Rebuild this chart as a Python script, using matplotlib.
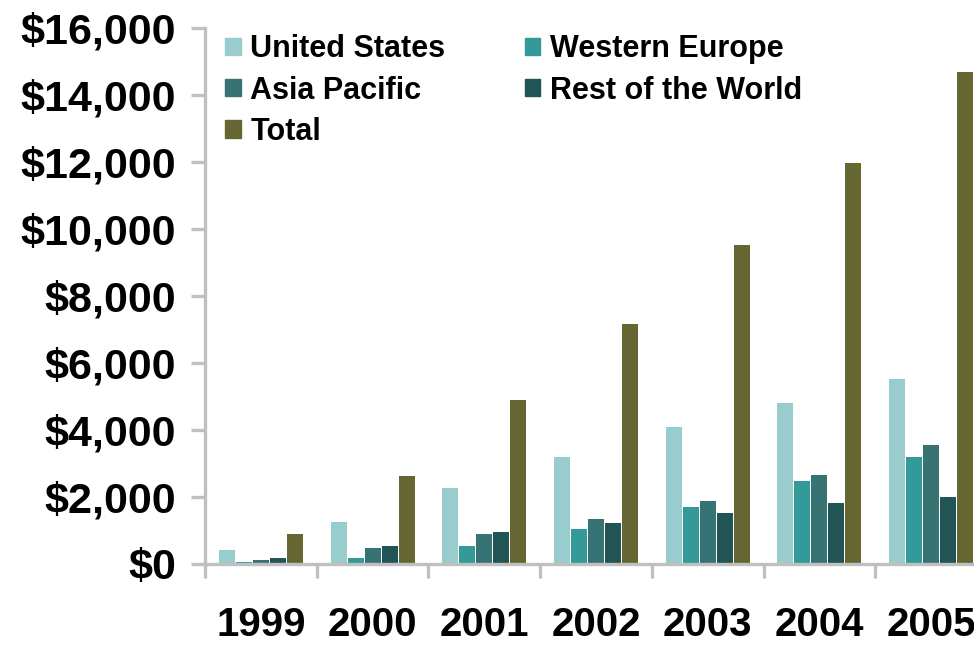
import numpy as np
import matplotlib
matplotlib.use("Agg")
import matplotlib.pyplot as plt
from matplotlib.patches import Rectangle
from matplotlib.ticker import FuncFormatter, FixedLocator

plt.rcParams["font.family"] = ["Liberation Sans", "DejaVu Sans"]
plt.rcParams["font.weight"] = "bold"

years = ["1999", "2000", "2001", "2002", "2003", "2004", "2005"]
series_names = ["United States", "Western Europe", "Asia Pacific", "Rest of the World", "Total"]
united_states = [420, 1250, 2270, 3200, 4100, 4820, 5530]
western_europe = [60, 180, 540, 1050, 1700, 2480, 3200]
asia_pacific = [120, 480, 900, 1350, 1880, 2660, 3560]
rest_of_world = [180, 540, 960, 1230, 1520, 1820, 2000]
total = [900, 2630, 4900, 7150, 9530, 11980, 14700]
colors = ["#99CCCC", "#339999", "#377373", "#215454", "#666633"]

series = [united_states, western_europe, asia_pacific, rest_of_world, total]

W, H = 974, 645
fig = plt.figure(figsize=(W / 100, H / 100), dpi=100, facecolor="white")
# axes runs past the right edge of the figure, so the 2005 group is cut off
ax = fig.add_axes([205 / W, (H - 564) / H, 782 / W, 536 / H])

x = np.arange(len(years))
pitch = 0.152
bar_w = 0.143
for i, (vals, col) in enumerate(zip(series, colors)):
    ax.bar(x + (i - 2) * pitch, vals, width=bar_w, color=col, linewidth=0, zorder=2)

ax.set_xlim(-0.5, len(years) - 0.5)
ax.set_ylim(0, 16000)
ax.set_yticks(np.arange(0, 16001, 2000))
ax.yaxis.set_major_formatter(FuncFormatter(lambda v, _: f"${v:,.0f}"))

grey = "#C0C0C0"
for side in ["top", "right"]:
    ax.spines[side].set_visible(False)
for side in ["left", "bottom"]:
    ax.spines[side].set_color(grey)
    ax.spines[side].set_linewidth(2.4)

ax.tick_params(axis="y", which="major", length=10, width=2.4, color=grey,
               labelsize=31, pad=11)
ax.set_xticks(x)
ax.set_xticklabels(years)
ax.xaxis.set_minor_locator(FixedLocator(np.arange(-0.5, len(years), 1.0)))
ax.tick_params(axis="x", which="major", length=0, labelsize=29, pad=30)
ax.tick_params(axis="x", which="minor", length=10, width=2.4, color=grey)
for lbl in ax.get_xticklabels() + ax.get_yticklabels():
    lbl.set_fontweight("bold")

# legend: rows US/WE, AP/RoW, Total
handles = [Rectangle((0, 0), 1, 1, color=c) for c in colors]
order = [0, 2, 4, 1, 3]
fig.legend([handles[k] for k in order], [series_names[k] for k in order],
           ncol=2, loc="upper left", bbox_to_anchor=(213 / W, 1 - 22 / H),
           frameon=False, prop={"size": 22, "weight": "bold"},
           handlelength=0.5, handleheight=0.5, handletextpad=0.32,
           columnspacing=2.6, labelspacing=0.37, borderaxespad=0)

fig.savefig("out.png", dpi=100, facecolor="white")
